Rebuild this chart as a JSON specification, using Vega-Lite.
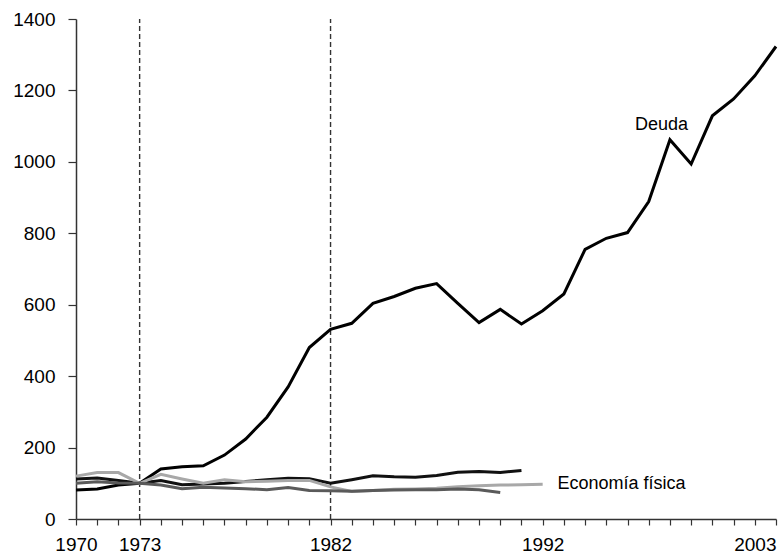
{
  "$schema": "https://vega.github.io/schema/vega-lite/v6.json",
  "width": 700,
  "height": 500,
  "autosize": {"type": "none"},
  "padding": {"left": 76, "top": 19, "right": 5, "bottom": 38},
  "background": "white",
  "config": {
    "view": {"stroke": null},
    "font": "Liberation Sans",
    "axis": {"grid": false, "labelFont": "Liberation Sans", "labelColor": "#000", "domainColor": "#333", "tickColor": "#333", "domainWidth": 1.5, "tickWidth": 1.2, "labelOverlap": false}
  },
  "datasets": {
    "series": [
      {"year": 1970, "serie": "Deuda", "value": 81},
      {"year": 1971, "serie": "Deuda", "value": 84},
      {"year": 1972, "serie": "Deuda", "value": 95},
      {"year": 1973, "serie": "Deuda", "value": 100},
      {"year": 1974, "serie": "Deuda", "value": 140},
      {"year": 1975, "serie": "Deuda", "value": 146},
      {"year": 1976, "serie": "Deuda", "value": 149},
      {"year": 1977, "serie": "Deuda", "value": 179},
      {"year": 1978, "serie": "Deuda", "value": 224},
      {"year": 1979, "serie": "Deuda", "value": 285},
      {"year": 1980, "serie": "Deuda", "value": 370},
      {"year": 1981, "serie": "Deuda", "value": 480},
      {"year": 1982, "serie": "Deuda", "value": 531},
      {"year": 1983, "serie": "Deuda", "value": 548},
      {"year": 1984, "serie": "Deuda", "value": 604},
      {"year": 1985, "serie": "Deuda", "value": 623},
      {"year": 1986, "serie": "Deuda", "value": 646},
      {"year": 1987, "serie": "Deuda", "value": 659},
      {"year": 1988, "serie": "Deuda", "value": 604},
      {"year": 1989, "serie": "Deuda", "value": 550},
      {"year": 1990, "serie": "Deuda", "value": 587},
      {"year": 1991, "serie": "Deuda", "value": 546},
      {"year": 1992, "serie": "Deuda", "value": 583},
      {"year": 1993, "serie": "Deuda", "value": 630},
      {"year": 1994, "serie": "Deuda", "value": 755},
      {"year": 1995, "serie": "Deuda", "value": 786},
      {"year": 1996, "serie": "Deuda", "value": 802},
      {"year": 1997, "serie": "Deuda", "value": 889},
      {"year": 1998, "serie": "Deuda", "value": 1062},
      {"year": 1999, "serie": "Deuda", "value": 994},
      {"year": 2000, "serie": "Deuda", "value": 1129},
      {"year": 2001, "serie": "Deuda", "value": 1176},
      {"year": 2002, "serie": "Deuda", "value": 1241},
      {"year": 2003, "serie": "Deuda", "value": 1323},

      {"year": 1970, "serie": "Física 1", "value": 112},
      {"year": 1971, "serie": "Física 1", "value": 115},
      {"year": 1972, "serie": "Física 1", "value": 108},
      {"year": 1973, "serie": "Física 1", "value": 100},
      {"year": 1974, "serie": "Física 1", "value": 108},
      {"year": 1975, "serie": "Física 1", "value": 96},
      {"year": 1976, "serie": "Física 1", "value": 98},
      {"year": 1977, "serie": "Física 1", "value": 100},
      {"year": 1978, "serie": "Física 1", "value": 105},
      {"year": 1979, "serie": "Física 1", "value": 110},
      {"year": 1980, "serie": "Física 1", "value": 114},
      {"year": 1981, "serie": "Física 1", "value": 113},
      {"year": 1982, "serie": "Física 1", "value": 100},
      {"year": 1983, "serie": "Física 1", "value": 110},
      {"year": 1984, "serie": "Física 1", "value": 121},
      {"year": 1985, "serie": "Física 1", "value": 118},
      {"year": 1986, "serie": "Física 1", "value": 117},
      {"year": 1987, "serie": "Física 1", "value": 122},
      {"year": 1988, "serie": "Física 1", "value": 131},
      {"year": 1989, "serie": "Física 1", "value": 133},
      {"year": 1990, "serie": "Física 1", "value": 130},
      {"year": 1991, "serie": "Física 1", "value": 136},

      {"year": 1970, "serie": "Física 2", "value": 120},
      {"year": 1971, "serie": "Física 2", "value": 130},
      {"year": 1972, "serie": "Física 2", "value": 130},
      {"year": 1973, "serie": "Física 2", "value": 100},
      {"year": 1974, "serie": "Física 2", "value": 125},
      {"year": 1975, "serie": "Física 2", "value": 112},
      {"year": 1976, "serie": "Física 2", "value": 100},
      {"year": 1977, "serie": "Física 2", "value": 110},
      {"year": 1978, "serie": "Física 2", "value": 104},
      {"year": 1979, "serie": "Física 2", "value": 106},
      {"year": 1980, "serie": "Física 2", "value": 108},
      {"year": 1981, "serie": "Física 2", "value": 108},
      {"year": 1982, "serie": "Física 2", "value": 90},
      {"year": 1983, "serie": "Física 2", "value": 77},
      {"year": 1984, "serie": "Física 2", "value": 80},
      {"year": 1985, "serie": "Física 2", "value": 83},
      {"year": 1986, "serie": "Física 2", "value": 84},
      {"year": 1987, "serie": "Física 2", "value": 86},
      {"year": 1988, "serie": "Física 2", "value": 90},
      {"year": 1989, "serie": "Física 2", "value": 93},
      {"year": 1990, "serie": "Física 2", "value": 95},
      {"year": 1991, "serie": "Física 2", "value": 96},
      {"year": 1992, "serie": "Física 2", "value": 97},

      {"year": 1970, "serie": "Física 3", "value": 100},
      {"year": 1971, "serie": "Física 3", "value": 104},
      {"year": 1972, "serie": "Física 3", "value": 101},
      {"year": 1973, "serie": "Física 3", "value": 100},
      {"year": 1974, "serie": "Física 3", "value": 95},
      {"year": 1975, "serie": "Física 3", "value": 85},
      {"year": 1976, "serie": "Física 3", "value": 89},
      {"year": 1977, "serie": "Física 3", "value": 87},
      {"year": 1978, "serie": "Física 3", "value": 85},
      {"year": 1979, "serie": "Física 3", "value": 82},
      {"year": 1980, "serie": "Física 3", "value": 88},
      {"year": 1981, "serie": "Física 3", "value": 80},
      {"year": 1982, "serie": "Física 3", "value": 79},
      {"year": 1983, "serie": "Física 3", "value": 78},
      {"year": 1984, "serie": "Física 3", "value": 80},
      {"year": 1985, "serie": "Física 3", "value": 81},
      {"year": 1986, "serie": "Física 3", "value": 82},
      {"year": 1987, "serie": "Física 3", "value": 82},
      {"year": 1988, "serie": "Física 3", "value": 84},
      {"year": 1989, "serie": "Física 3", "value": 82},
      {"year": 1990, "serie": "Física 3", "value": 74}
    ],
    "marks": [{"year": 1973}, {"year": 1982}],
    "labels": [
      {"year": 1997.6, "value": 1103, "label": "Deuda", "anchor": "center"},
      {"year": 1992.7, "value": 98, "label": "Economía física", "anchor": "left"}
    ]
  },
  "encoding": {
    "x": {
      "field": "year", "type": "quantitative",
      "scale": {"domain": [1970, 2003], "nice": false, "zero": false},
      "axis": {
        "title": null,
        "values": [1970,1971,1972,1973,1974,1975,1976,1977,1978,1979,1980,1981,1982,1983,1984,1985,1986,1987,1988,1989,1990,1991,1992,1993,1994,1995,1996,1997,1998,1999,2000,2001,2002,2003],
        "labelExpr": "indexof([1970,1973,1982,1992,2003], datum.value) >= 0 ? datum.value : ''",
        "labelAlign": {"expr": "datum.value == 2003 ? 'right' : 'center'"},
        "format": "d",
        "tickSize": 6,
        "labelFontSize": 19,
        "labelPadding": 10,
        "labelFlush": false,
        "labelOverlap": false,
        "labelBound": false
      }
    }
  },
  "layer": [
    {
      "data": {"name": "marks"},
      "mark": {"type": "rule", "strokeDash": [5, 3], "strokeWidth": 1.4, "color": "#333"},
      "encoding": {
        "y": {"datum": 0, "type": "quantitative", "scale": {"domain": [0, 1400], "nice": false},
          "axis": {"title": null, "values": [0,200,400,600,800,1000,1200,1400], "format": "d", "tickSize": 8, "labelFontSize": 19, "labelPadding": 13}},
        "y2": {"datum": 1400}
      }
    },
    {
      "data": {"name": "series"},
      "mark": {"type": "line", "strokeJoin": "miter", "strokeCap": "butt"},
      "encoding": {
        "y": {
          "field": "value", "type": "quantitative",
          "scale": {"domain": [0, 1400], "nice": false},
          "axis": {"title": null, "values": [0,200,400,600,800,1000,1200,1400], "format": "d", "tickSize": 8, "labelFontSize": 19, "labelPadding": 13}
        },
        "color": {
          "field": "serie", "type": "nominal", "legend": null,
          "scale": {"domain": ["Física 3", "Física 2", "Física 1", "Deuda"], "range": ["#5a5a5a", "#a8a8a8", "#111111", "#000000"]}
        },
        "strokeWidth": {
          "field": "serie", "type": "nominal", "legend": null,
          "scale": {"domain": ["Física 3", "Física 2", "Física 1", "Deuda"], "range": [3, 3, 3, 4.5]}
        },
        "order": {"field": "year", "type": "quantitative"}
      }
    },
    {
      "data": {"name": "labels"},
      "transform": [{"filter": "datum.anchor == 'center'"}],
      "mark": {"type": "text", "fontSize": 18, "color": "#000", "align": "center", "baseline": "middle", "font": "Liberation Sans"},
      "encoding": {
        "y": {"field": "value", "type": "quantitative"},
        "text": {"field": "label"}
      }
    },
    {
      "data": {"name": "labels"},
      "transform": [{"filter": "datum.anchor == 'left'"}],
      "mark": {"type": "text", "fontSize": 18, "color": "#000", "align": "left", "baseline": "middle", "font": "Liberation Sans"},
      "encoding": {
        "y": {"field": "value", "type": "quantitative"},
        "text": {"field": "label"}
      }
    }
  ]
}
